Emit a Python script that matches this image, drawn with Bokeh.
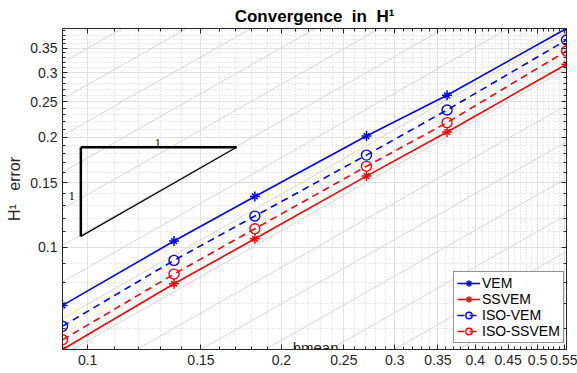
from bokeh.plotting import figure
from bokeh.models import (Range1d, FixedTicker, LogAxis, CustomJSTickFormatter,
                          Legend, LegendItem)
from bokeh.core.properties import value
from bokeh.embed import file_html
from bokeh.resources import INLINE

# ---- data ----
hmean = [0.0914, 0.1362, 0.1819, 0.2711, 0.3617, 0.5545]
vem = [0.0693, 0.1039, 0.1376, 0.2012, 0.2601, 0.3960]
ssvem = [0.0525, 0.0794, 0.1054, 0.1564, 0.2064, 0.3162]
iso_vem = [0.0608, 0.0920, 0.1216, 0.1785, 0.2371, 0.3685]
iso_ssvem = [0.0558, 0.0844, 0.1123, 0.1663, 0.2190, 0.3438]

x_ticks = [0.1, 0.15, 0.2, 0.25, 0.3, 0.35, 0.4, 0.45, 0.5, 0.55]
y_ticks = [0.1, 0.15, 0.2, 0.25, 0.3, 0.35]
x_minor = [round(0.09 + 0.01 * i, 2) for i in range(48)]
y_minor = [round(0.05 + 0.01 * i, 2) for i in range(36)]

# slope-1 guide lines (y = c * h)
guide_c = [10 ** (0.044 + 0.1 * k) for k in range(-12, 8)]

# slope triangle annotation
tri_h = [0.0976, 0.1704]
tri_e = [0.107, 0.1875]
tri_lbl_x = [0.1285, 0.0945]
tri_lbl_y = [0.1921, 0.1379]
tri_lbl = ["1", "1"]

FONT = "Liberation Sans"
AX = "#262626"

x0, x1 = min(hmean), max(hmean)
y0, y1 = min(ssvem), max(vem)

p = figure(width=577, height=373, x_axis_type="log", y_axis_type="log",
           x_range=Range1d(x0, x1), y_range=Range1d(y0, y1),
           output_backend="svg", toolbar_location=None,
           min_border_left=62, min_border_right=11, min_border_top=28,
           min_border_bottom=24)

p.title.text = "Convergence \u00a0in \u00a0H\u00b9"
p.title.align = "center"
p.title.text_font = FONT
p.title.text_font_size = "17px"
p.title.text_font_style = "bold"
p.title.text_color = "#000000"
p.title.standoff = 5

xt = FixedTicker(ticks=x_ticks, minor_ticks=x_minor)
yt = FixedTicker(ticks=y_ticks, minor_ticks=y_minor)
fmt = CustomJSTickFormatter(code="return tick.toString();")
blank = CustomJSTickFormatter(code="return '';")

def style_axis(ax, labels=True):
    ax.axis_line_color = AX
    ax.axis_line_width = 1
    ax.major_tick_in = 5
    ax.major_tick_out = 0
    ax.minor_tick_in = 3
    ax.minor_tick_out = 0
    ax.major_tick_line_color = AX
    ax.minor_tick_line_color = AX
    if labels:
        ax.major_label_text_font = FONT
        ax.major_label_text_font_size = "14px"
        ax.major_label_text_color = AX
    else:
        ax.major_label_standoff = 0
        ax.axis_label = None

p.xaxis.ticker = xt
p.yaxis.ticker = yt
p.xaxis.formatter = fmt
p.yaxis.formatter = fmt
style_axis(p.xaxis[0])
style_axis(p.yaxis[0])
p.xaxis.axis_label = None
p.xaxis.major_label_standoff = 5
p.yaxis.major_label_standoff = 5
p.yaxis.axis_label = "H\u00b9 \u00a0 error"
p.yaxis.axis_label_text_font = FONT
p.yaxis.axis_label_text_font_size = "16px"
p.yaxis.axis_label_text_font_style = "normal"
p.yaxis.axis_label_text_color = AX
p.yaxis.axis_label_standoff = 4

top = LogAxis(ticker=xt, formatter=blank)
style_axis(top, labels=False)
right = LogAxis(ticker=yt, formatter=blank)
style_axis(right, labels=False)
p.add_layout(top, "above")
p.add_layout(right, "right")

for g, t in ((p.xgrid, xt), (p.ygrid, yt)):
    g.ticker = t
    g.grid_line_color = "#e1e1e1"
    g.grid_line_width = 1
    g.minor_grid_line_color = "#d6d6d6"
    g.minor_grid_line_dash = "1 2"
    g.minor_grid_line_width = 1

p.outline_line_color = AX
p.background_fill_color = "white"
p.border_fill_color = "white"

# guide lines
p.multi_line(xs=[[x0, x1] for c in guide_c],
             ys=[[c * x0, c * x1] for c in guide_c],
             line_color="#d8d8d8", line_width=1)

# triangle
p.line([tri_h[0], tri_h[1]], [tri_e[1], tri_e[1]], line_color="black", line_width=2.5)
p.line([tri_h[0], tri_h[0]], [tri_e[1], tri_e[0]], line_color="black", line_width=2.5)
p.line([tri_h[0], tri_h[1]], [tri_e[0], tri_e[1]], line_color="black", line_width=1.2)
p.text(x=tri_lbl_x, y=tri_lbl_y, text=tri_lbl, text_align="center",
       text_baseline="alphabetic", text_font=value("Liberation Serif"),
       text_font_size="12px", text_color="#000000")

BLUE = "#0000ff"
RED = "#ff0000"
LW = 1.6

def star_series(y, color):
    ln = p.line(hmean, y, line_color=color, line_width=LW)
    m1 = p.scatter(hmean, y, marker="cross", size=10, line_color=color, line_width=1.5)
    m2 = p.scatter(hmean, y, marker="x", size=8, line_color=color, line_width=1.5)
    return [ln, m1, m2]

def circ_series(y, color):
    ln = p.line(hmean, y, line_color=color, line_width=LW, line_dash="7 5")
    m = p.scatter(hmean, y, marker="circle", size=10, line_color=color,
                  fill_color=None, line_width=1.4)
    return [ln, m]

r_vem = star_series(vem, BLUE)
r_ss = star_series(ssvem, RED)
r_iv = circ_series(iso_vem, BLUE)
r_is = circ_series(iso_ssvem, RED)

p.text(x=[0.226], y=[0.0533], text=["hmean"], text_align="center",
       text_baseline="alphabetic", text_font=value(FONT),
       text_font_size="15px", text_color=AX)

legend = Legend(items=[LegendItem(label="VEM", renderers=r_vem),
                       LegendItem(label="SSVEM", renderers=r_ss),
                       LegendItem(label="ISO-VEM", renderers=r_iv),
                       LegendItem(label="ISO-SSVEM", renderers=r_is)],
                location=(391, 6))
legend.border_line_color = AX
legend.border_line_width = 1
legend.background_fill_color = "white"
legend.background_fill_alpha = 1
legend.label_text_font = FONT
legend.label_text_font_size = "14px"
legend.label_text_color = "#000000"
legend.glyph_width = 23
legend.glyph_height = 16
legend.label_height = 16
legend.label_standoff = 2
legend.padding = 3
legend.spacing = 0
legend.margin = 0
p.add_layout(legend)

open("out.html", "w").write(file_html(p, INLINE))
